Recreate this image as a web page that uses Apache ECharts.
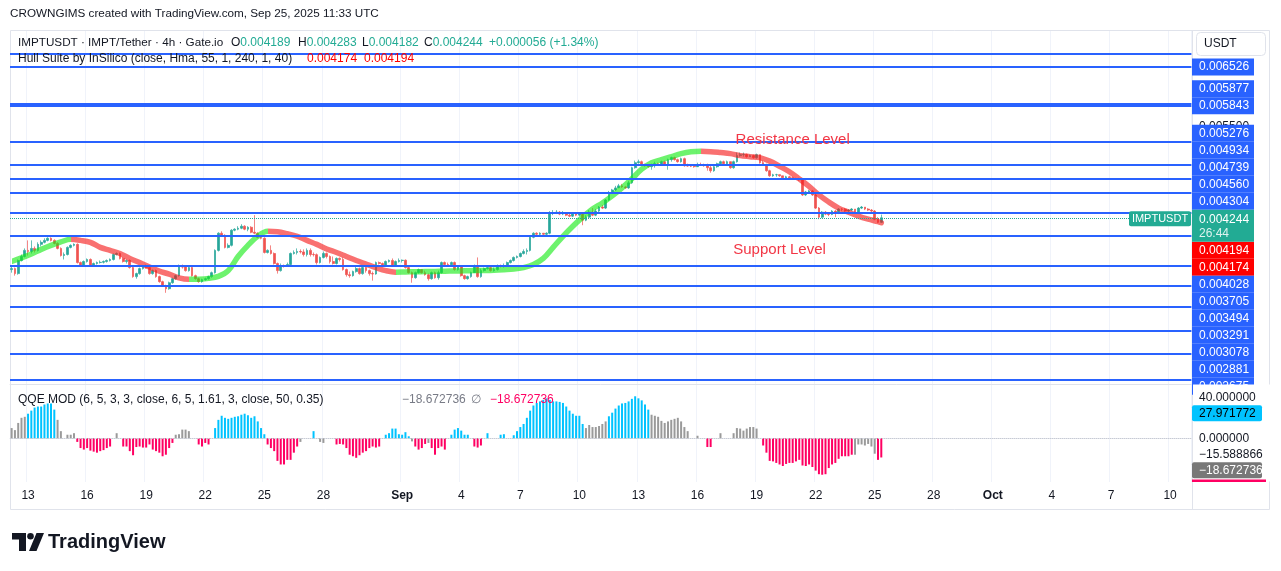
<!DOCTYPE html>
<html>
<head>
<meta charset="utf-8">
<script src="https://cdn.jsdelivr.net/npm/echarts@6.0.0/dist/echarts.min.js"></script>
<style>
  html, body { margin: 0; padding: 0; background: #fff; }
  #chart { width: 1281px; height: 571px; }
</style>
</head>
<body>
<div id="chart"></div>
<script>
// IMPTUSDT 4h, Gate.io — candles from Aug 12 2025 04:00 UTC, axis runs to Oct 11
var startTime = Date.UTC(2025, 7, 12, 4);
var slotCount = 360;
var tickDays = [1, 4, 7, 10, 13, 16, 19, 22, 25, 28];

var firstOpen = 0.003661;
var closes = [
  0.003671,0.003619,0.003757,0.003800,0.003867,0.003855,0.003889,0.003867,0.003934,0.003957,
  0.003979,0.004003,0.003979,0.003945,0.003889,0.003811,0.003822,0.003900,0.003923,0.003934,
  0.003735,0.003703,0.003746,0.003768,0.003703,0.003725,0.003735,0.003738,0.003746,0.003757,
  0.003768,0.003822,0.003833,0.003779,0.003746,0.003757,0.003682,0.003588,0.003619,0.003671,
  0.003692,0.003682,0.003619,0.003650,0.003588,0.003537,0.003496,0.003466,0.003526,0.003567,
  0.003598,0.003692,0.003687,0.003650,0.003682,0.003598,0.003567,0.003537,0.003557,0.003567,
  0.003588,0.003629,0.003867,0.004061,0.004037,0.003900,0.003923,0.004096,0.004108,0.004119,
  0.004143,0.004108,0.004131,0.004072,0.004061,0.004014,0.004003,0.003844,0.003867,0.003833,
  0.003725,0.003650,0.003703,0.003700,0.003714,0.003833,0.003844,0.003855,0.003850,0.003822,
  0.003867,0.003822,0.003820,0.003735,0.003790,0.003833,0.003800,0.003746,0.003725,0.003779,
  0.003768,0.003661,0.003608,0.003598,0.003640,0.003671,0.003619,0.003682,0.003650,0.003619,
  0.003615,0.003735,0.003725,0.003703,0.003746,0.003757,0.003703,0.003746,0.003757,0.003760,
  0.003682,0.003629,0.003577,0.003629,0.003661,0.003629,0.003608,0.003567,0.003629,0.003577,
  0.003629,0.003735,0.003714,0.003712,0.003735,0.003661,0.003692,0.003598,0.003567,0.003588,
  0.003629,0.003703,0.003588,0.003650,0.003671,0.003682,0.003650,0.003661,0.003703,0.003692,
  0.003703,0.003735,0.003757,0.003790,0.003800,0.003833,0.003855,0.003867,0.004014,0.004061,
  0.004049,0.004061,0.004049,0.004061,0.004301,0.004305,0.004313,0.004289,0.004301,0.004276,
  0.004264,0.004289,0.004276,0.004289,0.004215,0.004252,0.004313,0.004276,0.004326,0.004376,
  0.004363,0.004465,0.004556,0.004595,0.004622,0.004649,0.004635,0.004622,0.004689,0.004896,
  0.004967,0.004981,0.004938,0.004924,0.004910,0.004924,0.004953,0.004938,0.004981,0.004938,
  0.005010,0.005039,0.005010,0.004981,0.005024,0.004924,0.004920,0.004918,0.004910,0.004938,
  0.004935,0.004924,0.004896,0.004854,0.004910,0.004953,0.004981,0.004953,0.004981,0.004896,
  0.004981,0.005068,0.005082,0.005085,0.005053,0.005068,0.005039,0.005082,0.004967,0.004938,
  0.004854,0.004784,0.004798,0.004800,0.004784,0.004757,0.004771,0.004757,0.004743,0.004740,
  0.004730,0.004530,0.004569,0.004582,0.004530,0.004363,0.004252,0.004313,0.004289,0.004285,
  0.004326,0.004301,0.004351,0.004348,0.004326,0.004338,0.004351,0.004313,0.004363,0.004376,
  0.004351,0.004338,0.004326,0.004227,0.004189,0.004244
];
var highs = [
  0.003692,0.003682,0.003768,0.003822,0.003889,0.003979,0.003979,0.003911,0.003957,0.003979,
  0.004003,0.004014,0.004014,0.003991,0.003957,0.003900,0.003844,0.003911,0.003934,0.003945,
  0.003945,0.003746,0.003757,0.003779,0.003779,0.003735,0.003746,0.003757,0.003757,0.003768,
  0.003779,0.003833,0.003844,0.003844,0.003790,0.003768,0.003768,0.003692,0.003629,0.003682,
  0.003703,0.003714,0.003692,0.003661,0.003661,0.003598,0.003547,0.003506,0.003537,0.003577,
  0.003608,0.003714,0.003714,0.003703,0.003692,0.003703,0.003608,0.003577,0.003567,0.003577,
  0.003598,0.003640,0.003878,0.004072,0.004084,0.004049,0.003945,0.004108,0.004119,0.004143,
  0.004167,0.004155,0.004143,0.004143,0.004276,0.004072,0.004026,0.004014,0.003878,0.003923,
  0.003844,0.003735,0.003725,0.003714,0.003735,0.003844,0.003867,0.003889,0.003878,0.003878,
  0.003889,0.003889,0.003844,0.003833,0.003800,0.003855,0.003844,0.003811,0.003800,0.003790,
  0.003790,0.003790,0.003671,0.003640,0.003650,0.003692,0.003682,0.003692,0.003692,0.003661,
  0.003640,0.003746,0.003746,0.003735,0.003757,0.003768,0.003779,0.003757,0.003779,0.003768,
  0.003768,0.003692,0.003640,0.003640,0.003671,0.003661,0.003650,0.003619,0.003640,0.003640,
  0.003650,0.003746,0.003746,0.003735,0.003746,0.003746,0.003703,0.003703,0.003608,0.003598,
  0.003640,0.003714,0.003790,0.003671,0.003682,0.003692,0.003692,0.003682,0.003714,0.003714,
  0.003725,0.003746,0.003768,0.003800,0.003811,0.003844,0.003878,0.003889,0.004026,0.004072,
  0.004072,0.004072,0.004061,0.004072,0.004326,0.004338,0.004338,0.004326,0.004326,0.004313,
  0.004301,0.004301,0.004301,0.004313,0.004301,0.004276,0.004338,0.004363,0.004351,0.004389,
  0.004401,0.004478,0.004582,0.004609,0.004649,0.004675,0.004675,0.004649,0.004716,0.004910,
  0.004996,0.005010,0.004996,0.004953,0.004938,0.004953,0.004981,0.004967,0.004996,0.004996,
  0.005024,0.005053,0.005053,0.005024,0.005039,0.005039,0.004953,0.004945,0.004938,0.004967,
  0.004967,0.004953,0.004953,0.004924,0.004924,0.004967,0.004996,0.004996,0.004996,0.004981,
  0.004996,0.005112,0.005112,0.005112,0.005097,0.005082,0.005082,0.005097,0.005082,0.004996,
  0.004953,0.004868,0.004812,0.004812,0.004798,0.004784,0.004784,0.004784,0.004771,0.004757,
  0.004757,0.004743,0.004582,0.004595,0.004595,0.004543,0.004376,0.004326,0.004326,0.004313,
  0.004338,0.004338,0.004363,0.004363,0.004363,0.004351,0.004363,0.004351,0.004376,0.004389,
  0.004376,0.004363,0.004351,0.004338,0.004252,0.004283
];
var lows = [
  0.003629,0.003598,0.003608,0.003746,0.003790,0.003811,0.003833,0.003844,0.003855,0.003911,
  0.003945,0.003968,0.003968,0.003934,0.003878,0.003800,0.003768,0.003811,0.003889,0.003911,
  0.003725,0.003692,0.003692,0.003735,0.003692,0.003692,0.003714,0.003725,0.003725,0.003735,
  0.003746,0.003757,0.003811,0.003768,0.003735,0.003725,0.003671,0.003577,0.003567,0.003608,
  0.003661,0.003671,0.003608,0.003608,0.003577,0.003526,0.003486,0.003426,0.003456,0.003516,
  0.003557,0.003588,0.003671,0.003640,0.003640,0.003588,0.003557,0.003526,0.003526,0.003547,
  0.003557,0.003577,0.003619,0.003855,0.004026,0.003889,0.003889,0.003911,0.004084,0.004096,
  0.004108,0.004096,0.004084,0.004061,0.004049,0.004003,0.003991,0.003833,0.003833,0.003822,
  0.003714,0.003619,0.003640,0.003682,0.003692,0.003692,0.003822,0.003822,0.003833,0.003800,
  0.003800,0.003800,0.003800,0.003714,0.003725,0.003779,0.003779,0.003725,0.003714,0.003714,
  0.003746,0.003650,0.003588,0.003577,0.003588,0.003629,0.003608,0.003608,0.003629,0.003598,
  0.003547,0.003608,0.003714,0.003692,0.003692,0.003735,0.003692,0.003692,0.003735,0.003735,
  0.003671,0.003619,0.003526,0.003567,0.003619,0.003619,0.003598,0.003547,0.003557,0.003567,
  0.003557,0.003619,0.003703,0.003692,0.003703,0.003650,0.003650,0.003588,0.003557,0.003557,
  0.003577,0.003629,0.003577,0.003577,0.003640,0.003661,0.003640,0.003640,0.003650,0.003682,
  0.003682,0.003692,0.003725,0.003746,0.003779,0.003790,0.003822,0.003822,0.003855,0.004003,
  0.004037,0.004037,0.004026,0.004037,0.004049,0.004276,0.004289,0.004276,0.004276,0.004264,
  0.004252,0.004252,0.004264,0.004264,0.004155,0.004203,0.004240,0.004264,0.004264,0.004313,
  0.004351,0.004351,0.004452,0.004543,0.004582,0.004622,0.004622,0.004609,0.004609,0.004675,
  0.004882,0.004953,0.004924,0.004910,0.004896,0.004868,0.004896,0.004924,0.004924,0.004924,
  0.004868,0.004981,0.004996,0.004967,0.004967,0.004910,0.004910,0.004905,0.004896,0.004924,
  0.004924,0.004910,0.004854,0.004826,0.004840,0.004896,0.004938,0.004938,0.004938,0.004882,
  0.004882,0.004967,0.005053,0.005053,0.005039,0.005053,0.005024,0.005024,0.004953,0.004924,
  0.004840,0.004771,0.004771,0.004771,0.004771,0.004743,0.004743,0.004743,0.004730,0.004730,
  0.004716,0.004517,0.004517,0.004556,0.004517,0.004351,0.004227,0.004240,0.004276,0.004264,
  0.004276,0.004252,0.004289,0.004326,0.004313,0.004313,0.004326,0.004301,0.004301,0.004351,
  0.004338,0.004326,0.004313,0.004215,0.004179,0.004182
];

// Hull Suite (HMA 55), read every third candle, last value on the last candle
var hullVals = [
  0.003746,0.003785,0.003828,0.003878,0.003923,0.003962,0.003991,0.003979,0.003957,0.003900,
  0.003867,0.003833,0.003779,0.003735,0.003687,0.003645,0.003613,0.003575,0.003560,0.003562,
  0.003570,0.003590,0.003650,0.003800,0.003923,0.004026,0.004084,0.004078,0.004055,0.004026,
  0.003979,0.003934,0.003883,0.003844,0.003800,0.003757,0.003719,0.003682,0.003650,0.003634,
  0.003636,0.003638,0.003640,0.003642,0.003644,0.003646,0.003648,0.003650,0.003652,0.003655,
  0.003660,0.003666,0.003682,0.003714,0.003779,0.003900,0.004026,0.004143,0.004252,0.004351,
  0.004427,0.004517,0.004622,0.004743,0.004875,0.004967,0.005010,0.005053,0.005097,0.005124,
  0.005130,0.005125,0.005112,0.005097,0.005068,0.005053,0.005039,0.004989,0.004917,0.004840,
  0.004743,0.004642,0.004530,0.004439,0.004363,0.004313,0.004264,0.004227,0.004197,0.004184
];
var hullLast = [0.004194, 0.004174];

// horizontal levels drawn on the chart
var levels = [0.006526, 0.005877, 0.005843, 0.005276, 0.004934, 0.004739, 0.004560, 0.004304,
              0.004028, 0.003705, 0.003494, 0.003291, 0.003078, 0.002881, 0.002675];
var unlabelledLevels = [0.006772];
var priceTicks = [0.0055];

// QQE MOD histogram
var qqeVals = [
  10,8,15,20,21,24,27,30,31,31,33,34,34,28,18,7,0,3.5,3.5,5,
  -3.5,-9.5,-11,-9.5,-12,-13,-14,-12.5,-11.5,-9.5,-8,0,5,0,-8,-8,-12.5,-16.5,-8.5,-8,
  -9,-9,-6,-11,-12.5,-14,-17.5,-16,-9.5,-4.5,3.5,4,8.5,8.5,7,0,0,-6,-8,-4.5,
  -6,0,10,18,22,20,19,20,21,21.5,23,24,22.5,20,21.5,16.5,10,4,-6,-9.5,
  -12.5,-22,-25.5,-25.5,-21,-21,-14,-8,-3.5,0,0,0,7,0,-3.5,-4.5,0,0,0,-6,
  -5.5,-6,-9.5,-16,-17.5,-19,-16.5,-14,-12.5,-9.5,-8,-9,-8,0,3.5,5,9.5,9.5,4,3.5,
  6,2,-3,-8,-11,-9.5,-5.5,-4.5,-9.5,-16,-9.5,-8,-11,0,
  3.5,8.5,10,7.5,3.5,3.5,0,-8,-9,-7,0,5,0,0,0,3.5,4,0,0,
  3,7,11,14,20,27,32,34.5,36,37.5,39,37.5,36,36,35.5,34.5,31,27,24,22,22,14,
  10,13,11,11,12,14,16.5,
  21.5,25,29,32,34,34.5,36,38.5,41,39,37,33,28,
  23,22,21,17,15,16.5,18,19,20,16.5,11,7,0,0,2.5,0,0,
  -8.5,-8.5,0,0,
  5,0,0,0,5,10,9.5,7.5,9.5,11,11,9.5,0,
  -7,-14,-22,-22.5,-24,-25.5,-27,-25,-24,-24,-22.5,-21,-26.5,-27,-25.5,-28,-31.5,-35,-35.5,-35,
  -29,-25.5,-24,-20,-17.5,-17.5,-17.5,-16,
  -16,-6,-6,-7,-5.5,-8,-15,
  -21,-18.672736
];
// runs of histogram state: b = strong up, p = strong down, g = neutral
var qqeRuns = [
  ['g',5],['b',9],['g',6],['p',11],['g',3],['p',16],['g',7],['p',4],['g',1],['b',16],['p',10],
  ['g',4],['b',1],['g',6],['p',14],['g',1],['b',8],['g',1],['p',4],['g',1],['p',5],['g',1],
  ['b',6],['g',1],['p',3],['g',1],['b',1],['g',3],['b',2],['g',2],['b',22],['g',7],['b',13],
  ['g',17],['p',2],['g',15],['p',28],['g',7],['p',2]
];
var qqeTicks = [40, 0];
var qqeLineVals = [27.971772, -15.588866];

var FONT = '"Liberation Sans", Arial, sans-serif';
var UP = '#26a69a', DOWN = '#ef5350', TEAL = '#22ab94', BLUE = '#2962ff';
var HULL_UP = 'rgba(20,235,20,0.62)', HULL_DOWN = 'rgba(245,25,25,0.62)';
var QQE_COLORS = { b: '#00c3ff', p: '#ff0062', g: '#9a9a9a' };
var MONTHS = ['Jan','Feb','Mar','Apr','May','Jun','Jul','Aug','Sep','Oct','Nov','Dec'];

var categories = [];
for (var s = 0; s < slotCount; s++) {
  categories.push(new Date(startTime + s * 4 * 3600e3).toISOString().slice(0, 16).replace('T', ' '));
}
function isDateTick(index, value) {
  value = value || categories[index];
  return value.slice(11, 13) === '00' && tickDays.indexOf(+value.slice(8, 10)) >= 0;
}
function tickText(value) {
  var day = +value.slice(8, 10);
  return day === 1 ? '{m|' + MONTHS[+value.slice(5, 7) - 1] + '}' : String(day);
}

var candles = closes.map(function (c, i) {
  return [i === 0 ? firstOpen : closes[i - 1], c, lows[i], highs[i]];
});
var lastPrice = closes[closes.length - 1];

var hullIdx = hullVals.map(function (v, k) { return Math.min(k * 3, closes.length - 1); });
var hullData = hullVals.map(function (v, k) { return [hullIdx[k], v]; });
// colour turns where the hull changes direction
var hullPieces = [], segStart = 0, dir = Math.sign(hullVals[1] - hullVals[0]);
for (var k = 2; k < hullVals.length; k++) {
  var d = Math.sign(hullVals[k] - hullVals[k - 1]);
  if (d !== 0 && d !== dir) {
    hullPieces.push({ gte: segStart, lt: hullIdx[k - 1], color: dir > 0 ? HULL_UP : HULL_DOWN });
    segStart = hullIdx[k - 1];
    dir = d;
  }
}
hullPieces.push({ gte: segStart, color: dir > 0 ? HULL_UP : HULL_DOWN });

var qqeState = [];
qqeRuns.forEach(function (r) { for (var n = 0; n < r[1]; n++) qqeState.push(r[0]); });
var qqeData = qqeVals.map(function (v, i) {
  return { value: v, itemStyle: { color: QQE_COLORS[qqeState[i]] || QQE_COLORS.g } };
});

var chart = echarts.init(document.getElementById('chart'));

var gridSplit = { show: true, interval: isDateTick, lineStyle: { color: '#f0f3fa', width: 1 } };
var option = {
  animation: false,
  backgroundColor: '#ffffff',
  textStyle: { fontFamily: FONT },
  grid: [
    { left: 10, top: 30, width: 1181.4, height: 354 },
    { left: 10, top: 385, width: 1181.4, height: 97 }
  ],
  xAxis: [
    { type: 'category', gridIndex: 0, data: categories, boundaryGap: true,
      axisLine: { show: true, lineStyle: { color: '#e0e3eb' } },
      axisTick: { show: false }, axisLabel: { show: false }, splitLine: gridSplit },
    { type: 'category', gridIndex: 1, data: categories, boundaryGap: true,
      axisLine: { show: true, lineStyle: { color: '#e0e3eb' } },
      axisTick: { show: false },
      axisLabel: { show: true, interval: isDateTick, formatter: tickText, color: '#131722',
                   fontSize: 12, margin: 8, fontFamily: FONT,
                   rich: { m: { fontWeight: 'bold', fontSize: 12, color: '#131722', fontFamily: FONT } } },
      splitLine: gridSplit }
  ],
  yAxis: [
    { type: 'log', logBase: 10, gridIndex: 0, min: 0.002641, max: 0.007253, position: 'right',
      axisLine: { show: false }, axisTick: { show: false }, axisLabel: { show: false }, splitLine: { show: false } },
    { type: 'value', gridIndex: 1, min: -42.6, max: 52, position: 'right',
      axisLine: { show: false }, axisTick: { show: false }, axisLabel: { show: false }, splitLine: { show: false } }
  ],
  visualMap: [{ type: 'piecewise', show: false, seriesIndex: 1, dimension: 0, pieces: hullPieces }],
  series: [
    {
      type: 'candlestick', name: 'IMPTUSDT', xAxisIndex: 0, yAxisIndex: 0, data: candles,
      barWidth: 2.2, z: 2,
      itemStyle: { color: UP, color0: DOWN, borderColor: UP, borderColor0: DOWN, borderWidth: 0.7 },
      markLine: {
        silent: true, symbol: ['none', 'none'], label: { show: false }, precision: 8,
        data: levels.concat(unlabelledLevels).map(function (v) {
          return { yAxis: v, lineStyle: { color: BLUE, width: 2, type: 'solid' } };
        }).concat([{ yAxis: lastPrice, lineStyle: { color: TEAL, width: 1, type: 'dotted' } }])
      },
      markPoint: {
        silent: true, symbol: 'circle', symbolSize: 1, itemStyle: { color: 'rgba(0,0,0,0)' },
        label: { show: true, position: 'inside', color: '#f23645', fontSize: 15, fontFamily: FONT,
                 formatter: function (p) { return p.name; } },
        data: [
          { name: 'Resistance Level', coord: [238, 0.005299] },
          { name: 'Support Level', coord: [234, 0.003871] }
        ]
      }
    },
    {
      type: 'line', xAxisIndex: 0, yAxisIndex: 0, data: hullData, smooth: 0.35,
      symbol: 'none', silent: true, z: 3, lineStyle: { width: 5.5, cap: 'round' }
    },
    {
      type: 'bar', xAxisIndex: 1, yAxisIndex: 1, data: qqeData, barWidth: 2, silent: true,
      markLine: { silent: true, symbol: ['none', 'none'], label: { show: false },
                  lineStyle: { color: '#c8cbd3', type: 'dotted', width: 1 }, data: [{ yAxis: 0 }] }
    }
  ]
};
chart.setOption(option);

function py(v) { return chart.convertToPixel({ yAxisIndex: 0 }, v); }
function qy(v) { return chart.convertToPixel({ yAxisIndex: 1 }, v); }
function txt(x, y, text, fill, opts) {
  opts = opts || {};
  return { type: 'text', x: x, y: y, z: opts.z || 50, silent: true,
           style: { text: text, fill: fill, font: (opts.weight || 'normal') + ' ' + (opts.size || 12) + 'px ' + FONT,
                    align: opts.align || 'left', verticalAlign: 'middle', rich: opts.rich } };
}
function box(x, y, w, h, fill, z, r) {
  return { type: 'rect', z: z || 40, silent: true, shape: { x: x, y: y, width: w, height: h, r: r || 0 },
           style: { fill: fill } };
}
function fmt(v) { return v.toFixed(6).replace('-', '\u2212'); }

var g = [];
var AX = 1192, BW = 62, HALF = 8.5;
var legendRich = {
  k: { fill: '#131722', font: '12px ' + FONT },
  v: { fill: TEAL, font: '12px ' + FONT }
};

// headers
g.push(txt(10, 14, 'CROWNGIMS created with TradingView.com, Sep 25, 2025 11:33 UTC', '#131722', { size: 11.7 }));
g.push(txt(18, 42.5, 'IMPTUSDT \u00b7 IMPT/Tether \u00b7 4h \u00b7 Gate.io', '#131722', { size: 11.7 }));
[['O', 231, '0.004189'], ['H', 298, '0.004283'], ['L', 362, '0.004182'], ['C', 424, '0.004244']]
  .forEach(function (h) {
    g.push(txt(h[1], 42.5, '{k|' + h[0] + '}{v|' + h[2] + '}', '#131722', { rich: legendRich }));
  });
g.push(txt(489, 42.5, '+0.000056 (+1.34%)', TEAL));
g.push(txt(18, 59, 'Hull Suite by InSilico (close, Hma, 55, 1, 240, 1, 40)', '#131722'));
g.push(txt(307, 59, fmt(hullLast[1]), '#ff0000'));
g.push(txt(364, 59, fmt(hullLast[0]), '#ff0000'));
var qqeLast = qqeVals[qqeVals.length - 1];
g.push(txt(18, 400, 'QQE MOD (6, 5, 3, 3, close, 6, 5, 1.61, 3, close, 50, 0.35)', '#131722'));
g.push(txt(402, 400, fmt(qqeLast), '#787b86'));
g.push(txt(471, 400, '\u2205', '#787b86'));
g.push(txt(490, 400, fmt(qqeLast), '#ff0062'));

// frame
g.push({ type: 'rect', z: 1, silent: true, shape: { x: 10.5, y: 30.5, width: 1259, height: 479 },
         style: { fill: 'none', stroke: '#e0e3eb', lineWidth: 1 } });
g.push({ type: 'line', z: 1, silent: true, shape: { x1: AX + 0.5, y1: 30, x2: AX + 0.5, y2: 510 },
         style: { stroke: '#e0e3eb', lineWidth: 1 } });

// price scale tick text, then stacked level labels
priceTicks.forEach(function (v) { g.push(txt(AX + 7, py(v), v.toFixed(6), '#131722', { z: 30 })); });
var items = levels.map(function (v) { return { v: v, fill: BLUE }; })
  .concat(hullLast.map(function (v) { return { v: v, fill: '#ff0000' }; }));
var anchorTop = py(lastPrice) - 8, anchorBottom = anchorTop + 32;
var ups = items.filter(function (it) { return it.v > lastPrice; }).sort(function (a, b) { return a.v - b.v; });
var downs = items.filter(function (it) { return it.v < lastPrice; }).sort(function (a, b) { return b.v - a.v; });
var limit = anchorTop;
ups.forEach(function (it) { it.c = Math.min(py(it.v), limit - HALF); limit = it.c - HALF; });
limit = anchorBottom;
downs.forEach(function (it) { it.c = Math.max(py(it.v), limit + HALF); limit = it.c + HALF; });
ups.concat(downs).forEach(function (it) {
  g.push(box(AX, it.c - HALF, BW, 2 * HALF, it.fill, 40));
  g.push(txt(AX + 7, it.c, fmt(it.v), '#ffffff', { z: 41 }));
});
g.push(box(AX, anchorTop, BW, 32, TEAL, 40));
g.push(txt(AX + 7, anchorTop + 9.5, fmt(lastPrice), '#ffffff', { z: 41 }));
g.push(txt(AX + 7, anchorTop + 24, '26:44', 'rgba(255,255,255,0.85)', { z: 41 }));
g.push(box(1129, py(lastPrice) - 6.5, 62, 15, TEAL, 40, 2));
g.push(txt(1160, py(lastPrice) + 1, 'IMPTUSDT', '#ffffff', { z: 41, size: 11, align: 'center' }));

// USDT box
g.push({ type: 'rect', z: 45, silent: true, shape: { x: 1196.5, y: 32.5, width: 69, height: 23, r: 4 },
         style: { fill: '#ffffff', stroke: '#e0e3eb', lineWidth: 1 } });
g.push(txt(1204, 44, 'USDT', '#131722', { z: 46 }));

// QQE scale: cover the spill of the price labels, then its own labels
g.push(box(AX + 1, 384.5, 77, 97, '#ffffff', 60));
var qItems = qqeTicks.map(function (v) { return { v: v, kind: 'plain' }; })
  .concat(qqeLineVals.map(function (v, i) {
    return i === 0 ? { v: v, kind: 'box', fill: '#00c3ff', color: '#000000' } : { v: v, kind: 'plain' };
  }))
  .concat([{ v: qqeLast, kind: 'box', fill: '#787878', color: '#ffffff' }])
  .sort(function (a, b) { return b.v - a.v; });
var prev = -1e9;
qItems.forEach(function (it) {
  it.c = Math.max(qy(it.v), prev + 16); prev = it.c;
  if (it.kind === 'box') {
    g.push(box(AX, it.c - 8, 70, 16, it.fill, 62, 2));
    g.push(txt(AX + 7, it.c, fmt(it.v), it.color, { z: 63 }));
  } else {
    g.push(txt(AX + 7, it.c, fmt(it.v), '#131722', { z: 63 }));
  }
});
g.push(box(AX, 479.5, 74, 2.5, '#ff0062', 62));

// TradingView logo
g.push({ type: 'polygon', z: 50, silent: true,
         shape: { points: [[12, 533], [26, 533], [26, 551], [19, 551], [19, 539.5], [12, 539.5]] },
         style: { fill: '#131722' } });
g.push({ type: 'circle', z: 50, silent: true, shape: { cx: 30.5, cy: 536.3, r: 3.3 }, style: { fill: '#131722' } });
g.push({ type: 'polygon', z: 50, silent: true,
         shape: { points: [[36.5, 533], [44, 533], [36.5, 551], [29, 551]] }, style: { fill: '#131722' } });
g.push(txt(48, 542, 'TradingView', '#131722', { size: 20, weight: 'bold' }));

chart.setOption({ graphic: g });
</script>
</body>
</html>
